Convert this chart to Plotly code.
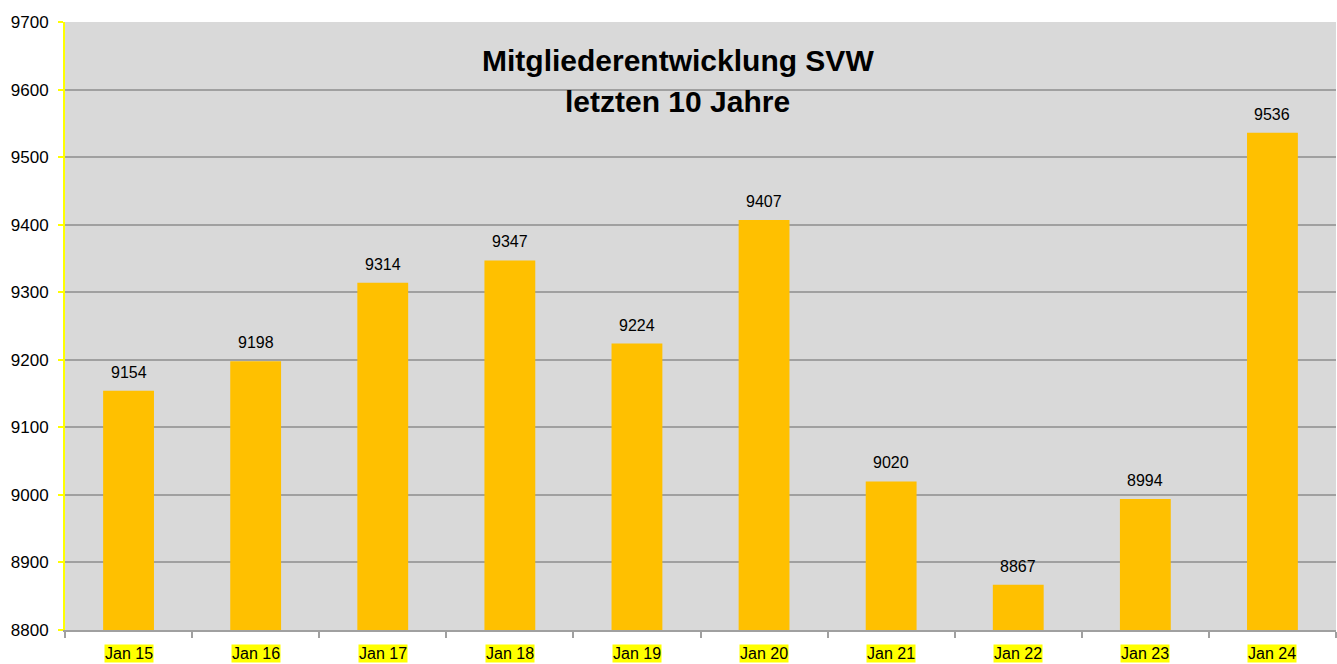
import plotly.graph_objects as go

categories = ["Jan 15", "Jan 16", "Jan 17", "Jan 18", "Jan 19", "Jan 20", "Jan 21", "Jan 22", "Jan 23", "Jan 24"]
members = [9154, 9198, 9314, 9347, 9224, 9407, 9020, 8867, 8994, 9536]
y_ticks = [8800, 8900, 9000, 9100, 9200, 9300, 9400, 9500, 9600, 9700]
title_lines = ["Mitgliederentwicklung SVW", "letzten 10 Jahre"]

FONT = "Liberation Sans, Arial, sans-serif"

fig = go.Figure(go.Bar(
    x=categories, y=members,
    marker=dict(color="#ffc000", line=dict(width=0)),
    width=0.4,
))

annotations = []
for line, ypos in zip(title_lines, [0.9375, 0.870]):
    annotations.append(dict(text="<b>" + line + "</b>", xref="paper", yref="paper",
                            x=0.482, y=ypos, xanchor="center", yanchor="middle", showarrow=False,
                            font=dict(family=FONT, size=30, color="#000000")))
for c, v in zip(categories, members):
    annotations.append(dict(text=str(v), xref="x", yref="y", x=c, y=v,
                            xanchor="center", yanchor="bottom", yshift=8,
                            showarrow=False,
                            font=dict(family=FONT, size=16, color="#000000")))
    annotations.append(dict(text=c, xref="x", yref="paper", x=c, y=0,
                            xanchor="center", yanchor="top", yshift=-14,
                            showarrow=False, bgcolor="#ffff00", borderpad=0,
                            font=dict(family=FONT, size=16, color="#000000")))

fig.update_layout(
    width=1337, height=664,
    margin=dict(l=65, r=1, t=22, b=34),
    paper_bgcolor="#ffffff", plot_bgcolor="#d9d9d9",
    showlegend=False,
    annotations=annotations,
)
fig.update_xaxes(
    type="category", showticklabels=False, showgrid=False,
    showline=True, linecolor="#a0a0a0", linewidth=2,
    ticks="outside", tickson="boundaries", ticklen=6, tickcolor="#a0a0a0", tickwidth=2,
)
fig.update_yaxes(
    range=[8800, 9700], tickvals=y_ticks, ticktext=[str(t) for t in y_ticks],
    showgrid=True, gridcolor="#a0a0a0", gridwidth=2,
    showline=True, linecolor="#ffff00", linewidth=2,
    ticks="outside", ticklen=5, tickcolor="#ffff00", tickwidth=2,
    tickfont=dict(family=FONT, size=17, color="#000000"),
    ticklabelstandoff=6,
    zeroline=False,
)

fig.write_html("out.html", config={"displayModeBar": False},
               post_script="document.body.style.margin='0';document.body.style.overflow='hidden';")
